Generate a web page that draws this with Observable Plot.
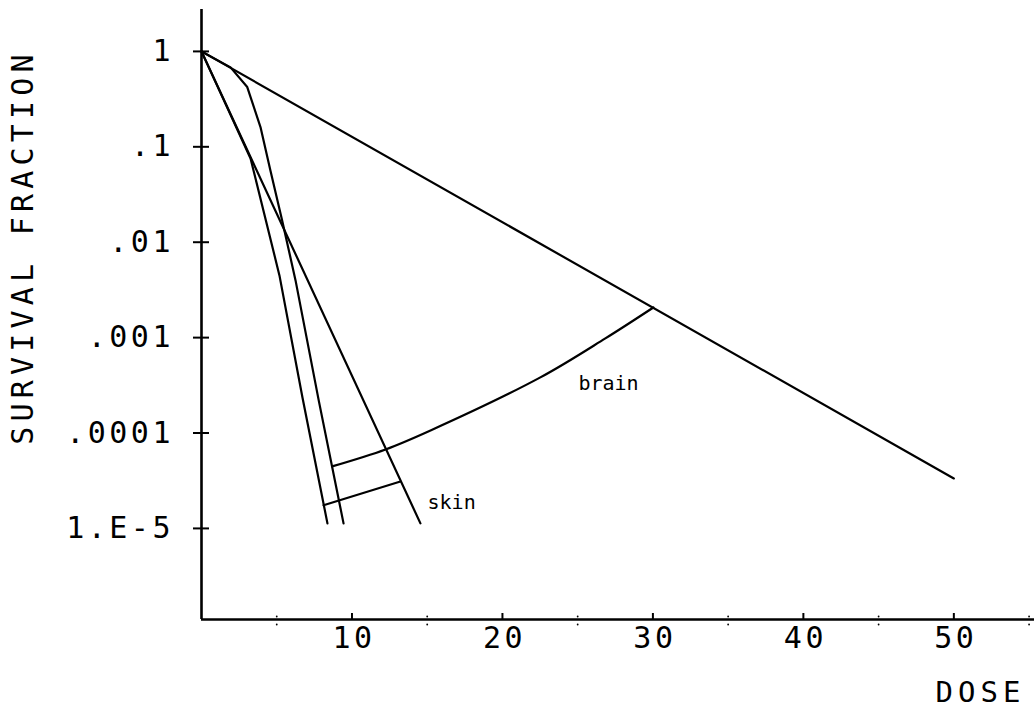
<!DOCTYPE html>
<html>
<head>
<meta charset="utf-8">
<script src="https://cdn.jsdelivr.net/npm/d3@7"></script>
<script src="https://cdn.jsdelivr.net/npm/@observablehq/plot@0.6"></script>
<style>
  html, body { margin: 0; padding: 0; background: #fff; }
</style>
</head>
<body>
<div id="chart"></div>
<script>
// ---- tick labels ----
const doseTicks = [10, 20, 30, 40, 50];
const doseTickLabels = ["10", "20", "30", "40", "50"];
const minorDoseTicks = [5, 15, 25, 35, 45, 55];
const survTicks = [1, 0.1, 0.01, 0.001, 0.0001, 0.00001];
const survTickLabels = ["1", ".1", ".01", ".001", ".0001", "1.E-5"];

// ---- series ----
// shallow straight line
const longDose = [0, 50];
const longSurv = [1, 3.34e-5];
// steep straight line
const steepDose = [0, 14.55];
const steepSurv = [1, 1.13e-5];
// branch that leaves the steep line
const branchDose = [0, 3.26, 5.18, 6.71, 8.37];
const branchSurv = [1, 0.0755, 0.00449, 2.36e-4, 1.13e-5];
// shouldered curve that leaves the shallow line
const shoulderDose = [0, 1.93, 3.04, 3.92, 4.58, 5.36, 6.25, 7.79, 9.44];
const shoulderSurv = [1, 0.68, 0.423, 0.161, 0.0566, 0.01694, 0.00398, 2.2e-4, 1.13e-5];
// brain iso-effect curve
const brainDose = [8.68, 12.23, 15.22, 22.52, 26.84, 30.03];
const brainSurv = [4.47e-5, 6.73e-5, 1.064e-4, 3.83e-4, 9.82e-4, 2.07e-3];
// skin iso-effect line
const skinDose = [8.11, 13.22];
const skinSurv = [1.75e-5, 3.1e-5];

// labels
const curveLabels = ["brain", "skin"];
const curveLabelDose = [25.05, 15.02];
const curveLabelSurv = [2.8e-4, 1.58e-5];

const xTitle = "DOSE";
const yTitle = "SURVIVAL FRACTION";

const xDomain = [0, 55.36];
const yDomain = [1.11e-6, 2.75];

const rows = (xs, ys) => xs.map((x, i) => ({x, y: ys[i]}));

const font = "DejaVu Sans Mono";
const lineStyle = {x: "x", y: "y", stroke: "black", strokeWidth: 2.2};

const chart = Plot.plot({
  width: 1034,
  height: 709,
  marginLeft: 201,
  marginRight: 0,
  marginTop: 9,
  marginBottom: 90,
  style: {fontFamily: font, background: "white", color: "black"},
  x: {domain: xDomain, axis: null},
  y: {type: "log", domain: yDomain, axis: null},
  marks: [
    // axis lines
    Plot.ruleX([0], {stroke: "black", strokeWidth: 2.6}),
    Plot.ruleY([yDomain[0]], {stroke: "black", strokeWidth: 2.6}),
    // y crosses
    Plot.tickY(survTicks, {y: d => d, insetRight: 817, dx: -8, stroke: "black", strokeWidth: 2}),
    // x major ticks
    Plot.tickX(doseTicks, {x: d => d, insetTop: 604, stroke: "black", strokeWidth: 2}),
    // x minor tick specks
    Plot.dot(minorDoseTicks, {x: d => d, y: () => yDomain[0], r: 0.9, fill: "black", dy: 5}),
    Plot.dot(minorDoseTicks, {x: d => d, y: () => yDomain[0], r: 0.9, fill: "black", dy: -3}),
    // tick labels
    Plot.text(survTicks, {
      x: () => 0, y: d => d, text: (d, i) => survTickLabels[i],
      textAnchor: "end", lineAnchor: "middle", dx: -27.5,
      fontSize: 30, fontFamily: font, fill: "black"
    }),
    Plot.text(doseTicks, {
      x: d => d, y: () => yDomain[0], text: (d, i) => doseTickLabels[i],
      textAnchor: "middle", lineAnchor: "middle", dy: 19, dx: 2,
      fontSize: 30, fontFamily: font, fill: "black"
    }),
    // curves
    Plot.line(rows(longDose, longSurv), lineStyle),
    Plot.line(rows(steepDose, steepSurv), lineStyle),
    Plot.line(rows(branchDose, branchSurv), lineStyle),
    Plot.line(rows(shoulderDose, shoulderSurv), lineStyle),
    Plot.line(rows(brainDose, brainSurv), {...lineStyle, curve: "catmull-rom"}),
    Plot.line(rows(skinDose, skinSurv), lineStyle),
    // curve labels
    Plot.text(curveLabels, {
      x: (d, i) => curveLabelDose[i], y: (d, i) => curveLabelSurv[i], text: d => d,
      textAnchor: "start", lineAnchor: "bottom",
      fontSize: 20, fontFamily: font, fill: "black"
    }),
    // axis titles
    Plot.text([yTitle], {
      text: d => d, frameAnchor: "left", rotate: -90,
      textAnchor: "middle", lineAnchor: "middle",
      dx: -178.5, dy: -67.5,
      fontSize: 30, fontFamily: font, fill: "black"
    }),
    Plot.text([xTitle], {
      text: d => d, frameAnchor: "bottom-right",
      textAnchor: "middle", lineAnchor: "bottom",
      dx: -54, dy: 82,
      fontSize: 29, fontFamily: font, fill: "black"
    })
  ]
});

document.getElementById("chart").appendChild(chart);

// letter spacing (plotter-style wide spacing)
chart.querySelectorAll("text").forEach(t => {
  const s = t.textContent;
  if (s === yTitle) t.style.letterSpacing = "5.2px";
  else if (s === xTitle) t.style.letterSpacing = "5px";
  else if (doseTickLabels.includes(s)) t.style.letterSpacing = "3.5px";
  else if (survTickLabels.includes(s)) t.style.letterSpacing = "3.5px";
});
</script>
</body>
</html>
